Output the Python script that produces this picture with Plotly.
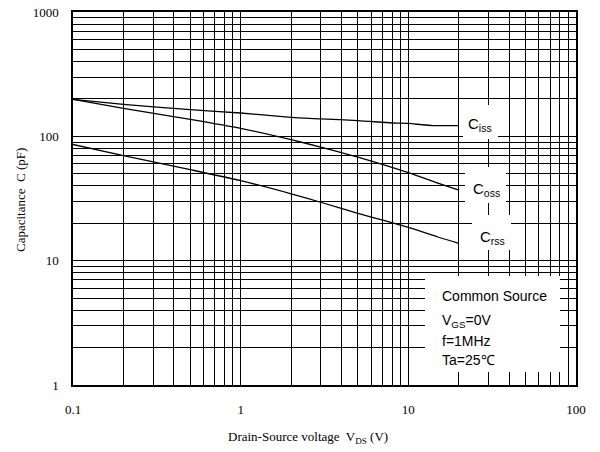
import plotly.graph_objects as go

# Data
ciss_v = [0.1, 0.2, 0.5, 1, 2, 3, 5, 8, 10, 12, 14, 20]
ciss_c = [198, 181, 164, 154, 142, 138, 134, 128, 127, 124, 122, 122]

coss_v = [0.1, 0.2, 0.5, 1, 2, 3, 5, 10, 15, 20]
coss_c = [198, 168, 137, 116, 94, 82, 68, 51, 42, 37]

crss_v = [0.1, 0.2, 0.5, 1, 2, 3, 5, 10, 15, 20]
crss_c = [86, 70, 54, 44, 34.5, 29.5, 24, 18.5, 15.5, 13.8]

x_decades = [0.1, 1, 10, 100]
y_decades = [1, 10, 100, 1000]

def log_ticks(decades):
    vals, text = [], []
    for d in decades[:-1]:
        for k in range(1, 10):
            vals.append(d * k)
            text.append(str(d) if k == 1 else "")
    vals.append(decades[-1])
    text.append(str(decades[-1]))
    return vals, text

xv, xt = log_ticks(x_decades)
yv, yt = log_ticks(y_decades)

fig = go.Figure()
for vx, cy in [(ciss_v, ciss_c), (coss_v, coss_c), (crss_v, crss_c)]:
    fig.add_trace(go.Scatter(x=vx, y=cy, mode="lines",
                             line=dict(color="black", width=1.3, shape="spline", smoothing=0.6),
                             showlegend=False, hoverinfo="skip"))

L, R, T, B = 73, 24, 12, 67
W, H = 600, 452
pw, ph = W - L - R, H - T - B

def px(x):
    return (x - L) / pw

def py(y):
    return (H - B - y) / ph

boxes = [(463, 105, 498, 139), (465, 167, 506, 203), (472, 215, 511, 250),
         (425, 276, 560, 372)]
for x0, y0, x1, y1 in boxes:
    fig.add_shape(type="rect", xref="paper", yref="paper",
                  x0=px(x0), x1=px(x1), y0=py(y1), y1=py(y0),
                  fillcolor="white", line=dict(width=0), layer="above")

sans = "Liberation Sans, Arial, sans-serif"
serif = "Liberation Serif, Times New Roman, serif"

labels = [("C<sub>iss</sub>", 480, 125), ("C<sub>oss</sub>", 486, 189),
          ("C<sub>rss</sub>", 492, 238)]
for txt, x, y in labels:
    fig.add_annotation(text=txt, xref="paper", yref="paper", x=px(x), y=py(y),
                       showarrow=False, font=dict(family=sans, size=15, color="black"),
                       xanchor="center", yanchor="middle")

cond = [("Common Source", 296), ("V<sub>GS</sub>=0V", 321), ("f=1MHz", 341),
        ("Ta=25℃", 360)]
for txt, y in cond:
    fig.add_annotation(text=txt, xref="paper", yref="paper", x=px(440), y=py(y),
                       showarrow=False, font=dict(family=sans, size=14, color="black"),
                       xanchor="left", yanchor="middle")

fig.add_annotation(text="Capacitance  C (pF)", xref="paper", yref="paper",
                   x=px(20), y=py(200), textangle=-90, showarrow=False,
                   font=dict(family=serif, size=13, color="black"),
                   xanchor="center", yanchor="middle")
fig.add_annotation(text="Drain-Source voltage  V<sub>DS</sub> (V)", xref="paper",
                   yref="paper", x=px(308), y=py(437), showarrow=False,
                   font=dict(family=serif, size=13, color="black"),
                   xanchor="center", yanchor="middle")

axis_common = dict(type="log", showgrid=True, gridcolor="black", gridwidth=1,
                   showline=True, linecolor="black", linewidth=1.5, mirror=True,
                   ticks="", zeroline=False, automargin=False,
                   tickfont=dict(family=serif, size=13, color="black"),
                   tickmode="array")
fig.update_xaxes(range=[-1, 2], tickvals=xv, ticktext=xt, ticklabelstandoff=12,
                 **axis_common)
fig.update_yaxes(range=[0, 3], tickvals=yv, ticktext=yt, ticklabelstandoff=10,
                 **axis_common)

fig.update_layout(width=W, height=H, margin=dict(l=L, r=R, t=T, b=B, autoexpand=False),
                  paper_bgcolor="white", plot_bgcolor="white")
fig.write_html("out.html")
